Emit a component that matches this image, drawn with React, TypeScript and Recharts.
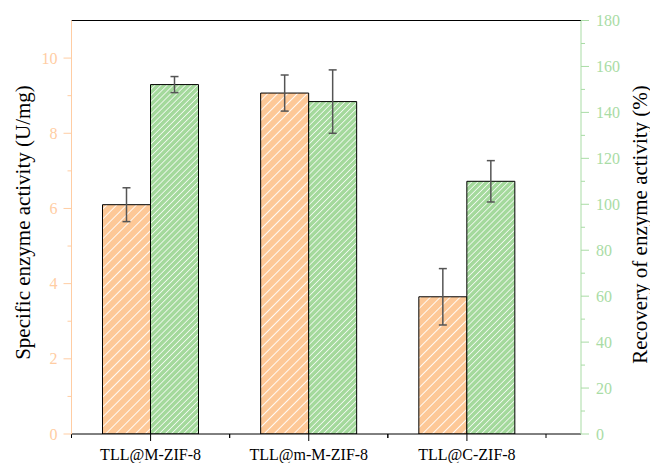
import React from 'react';
import { BarChart, Bar, XAxis, YAxis, ErrorBar, ReferenceLine } from 'recharts';

// Sample names
const categories = ['TLL@M-ZIF-8', 'TLL@m-M-ZIF-8', 'TLL@C-ZIF-8'];
// Specific enzyme activity (U/mg) with standard deviation
const activity = [6.1, 9.07, 3.65];
const activityErr = [0.45, 0.48, 0.75];
// Recovery of enzyme activity (%) with standard deviation
const recovery = [152.1, 144.7, 110.0];
const recoveryErr = [3.5, 13.8, 9.0];
// Axis ticks
const leftTicks = [0, 1, 2, 3, 4, 5, 6, 7, 8, 9, 10];
const rightTicks = [0, 10, 20, 30, 40, 50, 60, 70, 80, 90, 100, 110, 120, 130, 140, 150, 160, 170, 180];

const data = categories.map((name, i) => ({
  name,
  activity: activity[i],
  activityErr: activityErr[i],
  recovery: recovery[i],
  recoveryErr: recoveryErr[i],
}));

const W = 650;
const H = 463;
const margin = { top: 20.5, right: 19, bottom: 0, left: 21.5 };
const yAxisW = 50;
const xPadRight = 35;
const plotW = W - margin.left - margin.right - 2 * yAxisW;
const halfBand = (plotW - xPadRight) / categories.length / 2;

const FONT = "'Liberation Serif', 'Times New Roman', Times, 'DejaVu Serif', serif";
const ORANGE = '#FDC897';
const GREEN = '#A4D99C';
const LEFT_COLOR = '#FFCDA3';
const RIGHT_COLOR = '#A9DCA5';

const textStyle = (size: number, color: string): React.CSSProperties => ({
  fontFamily: FONT,
  fontSize: size,
  fill: color,
});

const LeftTick = (props: any) => {
  const { x, y, payload } = props;
  const v = payload.value;
  const major = v % 2 === 0;
  return (
    <g>
      <line x1={x - (major ? 8 : 4)} x2={x} y1={y} y2={y} stroke={LEFT_COLOR} strokeWidth={1} />
      {major && (
        <text x={x - 14} y={y} dy="0.35em" textAnchor="end" style={textStyle(16, LEFT_COLOR)}>
          {v}
        </text>
      )}
    </g>
  );
};

const RightTick = (props: any) => {
  const { x, y, payload } = props;
  const v = payload.value;
  const major = v % 20 === 0;
  return (
    <g>
      <line x1={x} x2={x + (major ? 8 : 4)} y1={y} y2={y} stroke={RIGHT_COLOR} strokeWidth={1} />
      {major && (
        <text x={x + 15} y={y} dy="0.35em" textAnchor="start" style={textStyle(16, RIGHT_COLOR)}>
          {v}
        </text>
      )}
    </g>
  );
};

const CategoryTick = (props: any) => {
  const { x, y, payload } = props;
  return (
    <g>
      <line x1={x} x2={x} y1={y} y2={y + 7} stroke="#000" strokeWidth={1} />
      <line x1={x - halfBand} x2={x - halfBand} y1={y} y2={y + 4} stroke="#000" strokeWidth={1} />
      <line x1={x + halfBand} x2={x + halfBand} y1={y} y2={y + 4} stroke="#000" strokeWidth={1} />
      <text x={x} y={y + 26} textAnchor="middle" style={textStyle(16, '#000')}>
        {payload.value}
      </text>
    </g>
  );
};

export default function App() {
  return (
    <div style={{ position: 'relative', width: W, height: H, background: '#fff', fontFamily: FONT }}>
      <style>{`body { margin: 0; }`}</style>
      <svg width={0} height={0} style={{ position: 'absolute' }}>
        <defs>
          <pattern id="hatchOrange" patternUnits="userSpaceOnUse" width={7} height={7} patternTransform="rotate(45)">
            <rect width={7} height={7} fill={ORANGE} />
            <line x1={3.5} y1={0} x2={3.5} y2={7} stroke="#ffffff" strokeWidth={1} strokeOpacity={0.9} />
          </pattern>
          <pattern id="hatchGreen" patternUnits="userSpaceOnUse" width={4.3} height={4.3} patternTransform="rotate(45)">
            <rect width={4.3} height={4.3} fill={GREEN} />
            <line x1={2.15} y1={0} x2={2.15} y2={4.3} stroke="#ffffff" strokeWidth={0.9} strokeOpacity={0.85} />
          </pattern>
        </defs>
      </svg>
      <BarChart width={W} height={H} data={data} margin={margin} barGap={0} barSize={48}>
        <XAxis
          dataKey="name"
          padding={{ left: 0, right: xPadRight }}
          tickLine={false}
          tickSize={0}
          tickMargin={0}
          axisLine={{ stroke: '#000', strokeWidth: 1 }}
          tick={<CategoryTick />}
          interval={0}
          height={29}
        />
        <YAxis
          yAxisId="left"
          orientation="left"
          domain={[0, 11]}
          ticks={leftTicks}
          interval={0}
          width={yAxisW}
          tickLine={false}
          tickSize={0}
          tickMargin={0}
          axisLine={{ stroke: LEFT_COLOR, strokeWidth: 1 }}
          tick={<LeftTick />}
          allowDataOverflow
        />
        <YAxis
          yAxisId="right"
          orientation="right"
          domain={[0, 180]}
          ticks={rightTicks}
          interval={0}
          width={yAxisW}
          tickLine={false}
          tickSize={0}
          tickMargin={0}
          axisLine={{ stroke: RIGHT_COLOR, strokeWidth: 1 }}
          tick={<RightTick />}
          allowDataOverflow
        />
        <ReferenceLine yAxisId="left" y={11} stroke="#000" strokeWidth={1} />
        <Bar yAxisId="left" dataKey="activity" fill="url(#hatchOrange)" stroke="#000" strokeWidth={1} isAnimationActive={false}>
          <ErrorBar dataKey="activityErr" width={4} stroke="#555" strokeWidth={1.5} direction="y" />
        </Bar>
        <Bar yAxisId="right" dataKey="recovery" fill="url(#hatchGreen)" stroke="#000" strokeWidth={1} isAnimationActive={false}>
          <ErrorBar dataKey="recoveryErr" width={4} stroke="#555" strokeWidth={1.5} direction="y" />
        </Bar>
      </BarChart>
      <svg width={W} height={H} style={{ position: 'absolute', left: 0, top: 0, pointerEvents: 'none' }}>
        <text
          x={23}
          y={222.5}
          transform="rotate(-90, 23, 222.5)"
          textAnchor="middle"
          dominantBaseline="central"
          style={textStyle(21, '#000')}
        >
          Specific enzyme activity (U/mg)
        </text>
        <text
          x={639.5}
          y={224.5}
          transform="rotate(-90, 639.5, 224.5)"
          textAnchor="middle"
          dominantBaseline="central"
          style={textStyle(21, '#000')}
        >
          Recovery of enzyme activity (%)
        </text>
      </svg>
    </div>
  );
}
